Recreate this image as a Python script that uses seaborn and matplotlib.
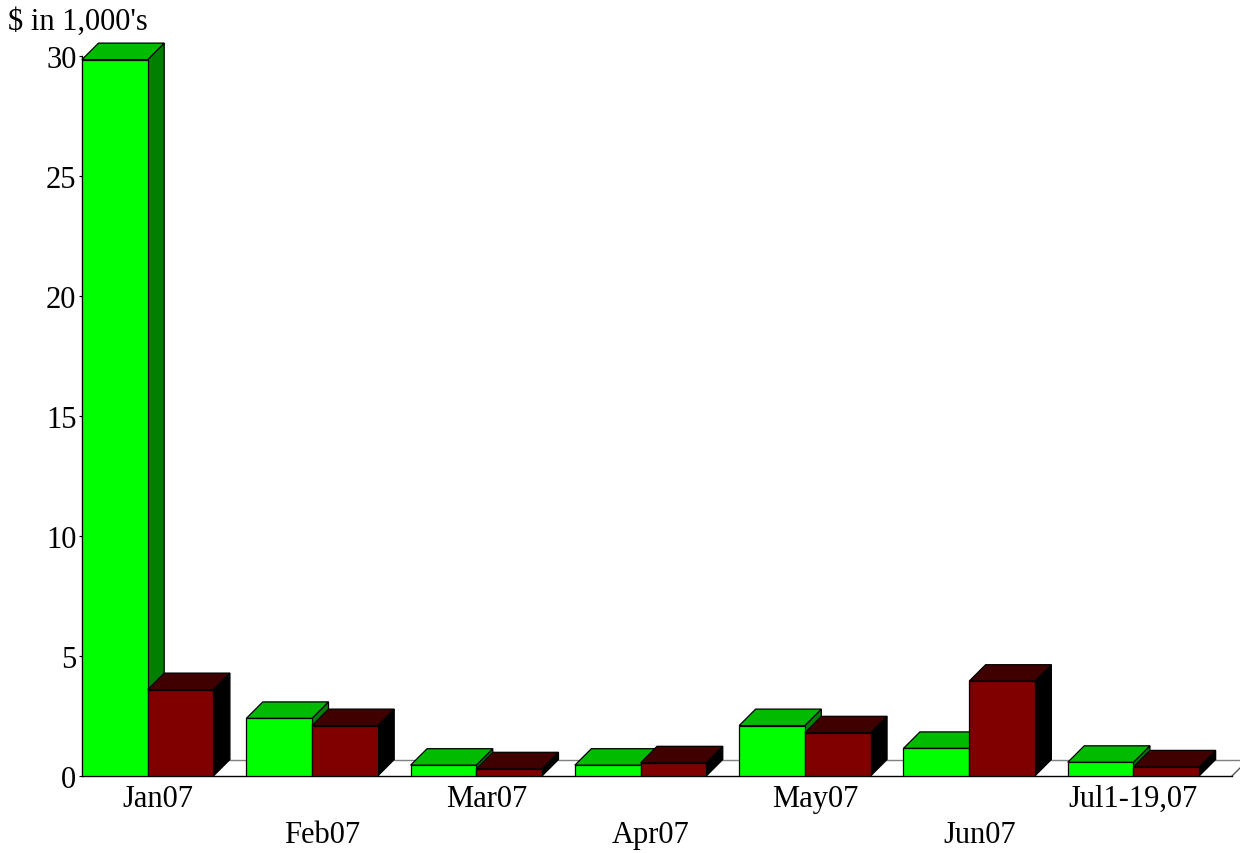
import numpy as np
import pandas as pd
import matplotlib
matplotlib.use("Agg")
import matplotlib.pyplot as plt
import seaborn as sns
from matplotlib.patches import Polygon
from matplotlib.transforms import ScaledTranslation, blended_transform_factory

# ---------------- data ----------------
months = ["Jan07", "Feb07", "Mar07", "Apr07", "May07", "Jun07", "Jul1-19,07"]
series_names = ["Series 1", "Series 2"]
green_values = [29.85, 2.4, 0.45, 0.45, 2.1, 1.15, 0.57]
red_values = [3.6, 2.1, 0.3, 0.55, 1.8, 3.95, 0.38]
y_ticks = [0, 5, 10, 15, 20, 25, 30]
unit_label = "$ in 1,000's"

# ---------------- style ----------------
front_colors = {series_names[0]: "#00ff00", series_names[1]: "#800000"}
top_colors = {series_names[0]: "#00bb00", series_names[1]: "#400000"}
side_colors = {series_names[0]: "#007f00", series_names[1]: "#000000"}
label_dx_px = [10.5, 10.5, 10.5, 10.5, 10.5, 10.5, 0.0]
depth_px = 16.5
FS = 22

sns.set_theme(style="white")
plt.rcParams["font.family"] = ["Liberation Serif", "DejaVu Serif"]

df = pd.DataFrame({
    "month": months * 2,
    "series": [series_names[0]] * len(months) + [series_names[1]] * len(months),
    "value": green_values + red_values,
})

fig = plt.figure(figsize=(12.4, 8.54), dpi=100)
ax = fig.add_axes([82 / 1240, 77 / 854, 1150 / 1240, 720 / 854])

sns.barplot(data=df, x="month", y="value", hue="series", order=months,
            hue_order=series_names, palette=front_colors, width=0.8,
            saturation=1, edgecolor="black", linewidth=0.9,
            errorbar=None, legend=False, ax=ax)

ax.set_xlim(-0.4, len(months) - 0.4)
ax.set_ylim(0, 30)
ax.set_xlabel("")
ax.set_ylabel("")

# depth offset in data units
inv = ax.transData.inverted()
p0 = ax.transData.transform((0, 0))
dx, dy = inv.transform(p0 + np.array([depth_px, depth_px]))

# floor
xl, xr = ax.get_xlim()
floor = Polygon([(xl, 0), (xr, 0), (xr + dx, dy), (xl + dx, dy)], closed=True,
                facecolor="white", edgecolor="none", zorder=1, clip_on=False)
ax.add_patch(floor)
ax.plot([xl + dx, xr + dx], [dy, dy], color="#808080", lw=1.0, zorder=1.1,
        clip_on=False, solid_capstyle="butt")
ax.plot([xr, xr + dx], [0, dy], color="#555555", lw=1.0, zorder=1.1,
        clip_on=False)

# 3D faces for every bar
n = len(months)
bars = []
for idx, p in enumerate(list(ax.patches)):
    if p is floor:
        continue
    s = series_names[idx // n]
    bars.append((p.get_x(), p, s))
bars.sort(key=lambda t: t[0])

for k, (x0, p, s) in enumerate(bars):
    w = p.get_width()
    h = p.get_height()
    x1 = x0 + w
    z = 3 + 3 * k
    side = Polygon([(x1, 0), (x1 + dx, dy), (x1 + dx, h + dy), (x1, h)],
                   closed=True, facecolor=side_colors[s], edgecolor="black",
                   lw=0.9, zorder=z, clip_on=False, joinstyle="miter")
    top = Polygon([(x0, h), (x1, h), (x1 + dx, h + dy), (x0 + dx, h + dy)],
                  closed=True, facecolor=top_colors[s], edgecolor="black",
                  lw=0.9, zorder=z + 0.5, clip_on=False, joinstyle="miter")
    ax.add_patch(side)
    ax.add_patch(top)
    p.set_zorder(z + 1)

# spines
for sp in ["top", "right"]:
    ax.spines[sp].set_visible(False)
for sp in ["left", "bottom"]:
    ax.spines[sp].set_color("black")
    ax.spines[sp].set_linewidth(1.0)
    ax.spines[sp].set_zorder(2)

ax.set_yticks(y_ticks)
ax.set_yticklabels([str(v) for v in y_ticks], fontsize=FS)
ax.tick_params(axis="y", left=True, direction="out", length=2, width=0.8,
               color="black", pad=2, labelcolor="black")
ax.tick_params(axis="x", bottom=False, labelbottom=False)

# staggered month labels
blend = blended_transform_factory(ax.transData, ax.transAxes)
for i, m in enumerate(months):
    drop = 30 if i % 2 == 0 else 66
    tr = blend + ScaledTranslation(label_dx_px[i] / 100, -drop / 100, fig.dpi_scale_trans)
    ax.text(i, 0, m, transform=tr, ha="center", va="baseline", fontsize=FS,
            color="black")

fig.text(8 / 1240, 1 - 30 / 854, unit_label, ha="left", va="baseline",
         fontsize=FS, color="black")

fig.savefig("out.png", dpi=100)
